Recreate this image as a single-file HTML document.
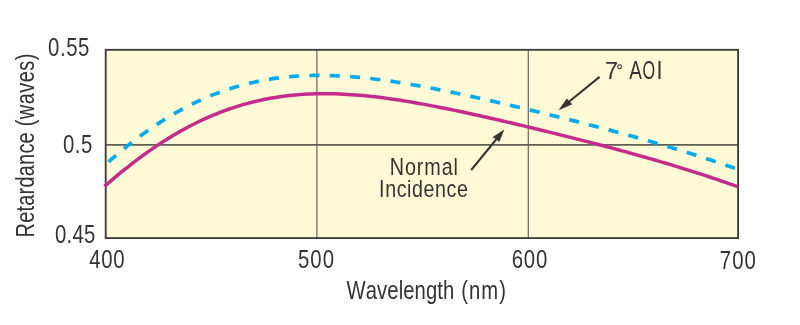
<!DOCTYPE html>
<html><head><meta charset="utf-8"><style>
html,body{margin:0;padding:0;background:#fff;width:800px;height:325px;overflow:hidden;position:relative}
text{font-family:"Liberation Sans",sans-serif}
</style></head><body>
<svg width="800" height="325" viewBox="0 0 800 325" style="position:absolute;left:0;top:0;will-change:transform">
<rect x="106" y="50" width="632" height="188" fill="#FFFAD6"/>
<line x1="316.9" y1="50" x2="316.9" y2="238" stroke="#6a6a5e" stroke-width="1.25"/>
<line x1="528.3" y1="50" x2="528.3" y2="238" stroke="#6a6a5e" stroke-width="1.25"/>
<line x1="106" y1="144.9" x2="738" y2="144.9" stroke="#5f5f52" stroke-width="1.6"/>
<path d="M108.49,161.91 L110.02,160.57 L111.54,159.23 L113.06,157.91 L114.59,156.59 L116.11,155.29 M123.97,148.73 L125.55,147.45 L127.13,146.17 L128.70,144.91 L130.28,143.67 L131.86,142.43 M140.01,136.23 L141.64,135.02 L143.28,133.83 L144.92,132.65 L146.56,131.48 L148.19,130.32 M156.64,124.55 L158.34,123.43 L160.04,122.33 L161.74,121.23 L163.44,120.16 L165.14,119.09 M173.92,113.83 L175.68,112.81 L177.44,111.81 L179.21,110.83 L180.97,109.86 L182.73,108.90 M191.83,104.21 L193.65,103.32 L195.48,102.44 L197.31,101.57 L199.13,100.73 L200.96,99.89 M210.36,95.85 L212.24,95.09 L214.13,94.35 L216.01,93.62 L217.89,92.90 L219.78,92.21 M229.45,88.87 L231.38,88.26 L233.32,87.65 L235.25,87.07 L237.18,86.50 L239.12,85.95 M249.02,83.36 L250.99,82.89 L252.96,82.44 L254.93,82.00 L256.90,81.58 L258.88,81.17 M268.94,79.33 L270.94,79.01 L272.94,78.70 L274.94,78.41 L276.94,78.13 L278.94,77.87 M289.11,76.75 L291.12,76.57 L293.14,76.41 L295.15,76.25 L297.16,76.11 L299.18,75.99 M309.40,75.53 L311.42,75.48 L313.44,75.44 L315.46,75.41 L317.48,75.40 L319.50,75.39 M329.73,75.53 L331.75,75.59 L333.77,75.66 L335.79,75.74 L337.80,75.83 L339.82,75.93 M350.03,76.58 L352.05,76.74 L354.06,76.90 L356.07,77.07 L358.09,77.25 L360.10,77.44 M370.27,78.51 L372.28,78.75 L374.28,78.99 L376.29,79.23 L378.29,79.49 L380.30,79.75 M390.43,81.16 L392.43,81.45 L394.43,81.75 L396.42,82.06 L398.42,82.37 L400.42,82.69 M410.51,84.36 L412.50,84.71 L414.49,85.05 L416.48,85.41 L418.47,85.76 L420.46,86.12 M430.52,88.00 L432.50,88.39 L434.48,88.77 L436.46,89.16 L438.45,89.55 L440.43,89.94 M450.46,91.98 L452.43,92.39 L454.41,92.80 L456.39,93.21 L458.36,93.63 L460.34,94.05 M470.35,96.21 L472.32,96.64 L474.29,97.07 L476.26,97.50 L478.24,97.94 L480.21,98.38 M490.19,100.63 L492.16,101.07 L494.13,101.52 L496.10,101.97 L498.07,102.43 L500.04,102.88 M510.00,105.20 L511.97,105.66 L513.94,106.12 L515.90,106.59 L517.87,107.05 L519.83,107.52 M529.79,109.90 L531.75,110.37 L533.71,110.85 L535.68,111.32 L537.64,111.80 L539.60,112.27 M549.54,114.71 L551.50,115.19 L553.46,115.68 L555.42,116.17 L557.38,116.65 L559.34,117.14 M569.27,119.63 L571.23,120.13 L573.18,120.63 L575.14,121.12 L577.10,121.62 L579.06,122.12 M588.97,124.68 L590.92,125.18 L592.88,125.69 L594.83,126.20 L596.78,126.72 L598.74,127.23 M608.63,129.85 L610.58,130.38 L612.53,130.90 L614.48,131.42 L616.43,131.95 L618.38,132.48 M628.25,135.18 L630.20,135.72 L632.14,136.26 L634.09,136.80 L636.04,137.35 L637.98,137.90 M647.82,140.69 L649.77,141.25 L651.71,141.81 L653.65,142.37 L655.59,142.93 L657.53,143.50 M667.34,146.40 L669.27,146.98 L671.21,147.56 L673.14,148.15 L675.07,148.73 L677.01,149.32 M686.79,152.34 L688.71,152.94 L690.64,153.55 L692.56,154.16 L694.49,154.77 L696.42,155.38 M706.15,158.53 L708.07,159.16 L709.99,159.79 L711.91,160.42 L713.82,161.06 L715.74,161.70 M725.43,164.99 L727.34,165.65 L729.25,166.31 L731.16,166.97 L733.06,167.64 L734.97,168.31" fill="none" stroke="#03ABEB" stroke-width="3.7"/>
<rect x="105.7" y="49.8" width="632.4" height="188.3" fill="none" stroke="#3c3c3a" stroke-width="1.85"/>
<path d="M104.50,186.43 L108.48,182.96 L112.46,179.56 L116.44,176.20 L120.42,172.91 L124.41,169.68 L128.39,166.51 L132.37,163.41 L136.35,160.36 L140.33,157.39 L144.31,154.48 L148.29,151.63 L152.27,148.86 L156.25,146.15 L160.24,143.51 L164.22,140.94 L168.20,138.44 L172.18,136.02 L176.16,133.66 L180.14,131.38 L184.12,129.16 L188.10,127.02 L192.08,124.95 L196.07,122.95 L200.05,121.02 L204.03,119.17 L208.01,117.38 L211.99,115.67 L215.97,114.02 L219.95,112.45 L223.93,110.94 L227.92,109.51 L231.90,108.14 L235.88,106.84 L239.86,105.61 L243.84,104.44 L247.82,103.34 L251.80,102.30 L255.78,101.33 L259.76,100.43 L263.75,99.58 L267.73,98.80 L271.71,98.07 L275.69,97.41 L279.67,96.81 L283.65,96.26 L287.63,95.77 L291.61,95.33 L295.59,94.95 L299.58,94.62 L303.56,94.35 L307.54,94.12 L311.52,93.94 L315.50,93.82 L319.48,93.74 L323.46,93.70 L327.44,93.71 L331.42,93.76 L335.41,93.86 L339.39,94.00 L343.37,94.17 L347.35,94.39 L351.33,94.64 L355.31,94.92 L359.29,95.25 L363.27,95.60 L367.25,95.99 L371.24,96.41 L375.22,96.85 L379.20,97.33 L383.18,97.84 L387.16,98.37 L391.14,98.92 L395.12,99.50 L399.10,100.10 L403.08,100.73 L407.07,101.37 L411.05,102.04 L415.03,102.72 L419.01,103.42 L422.99,104.14 L426.97,104.88 L430.95,105.63 L434.93,106.39 L438.92,107.17 L442.90,107.96 L446.88,108.76 L450.86,109.57 L454.84,110.40 L458.82,111.24 L462.80,112.08 L466.78,112.94 L470.76,113.80 L474.75,114.67 L478.73,115.55 L482.71,116.44 L486.69,117.33 L490.67,118.23 L494.65,119.14 L498.63,120.05 L502.61,120.97 L506.59,121.89 L510.58,122.82 L514.56,123.76 L518.54,124.70 L522.52,125.64 L526.50,126.59 L530.48,127.54 L534.46,128.50 L538.44,129.47 L542.42,130.43 L546.41,131.40 L550.39,132.38 L554.37,133.36 L558.35,134.35 L562.33,135.34 L566.31,136.33 L570.29,137.33 L574.27,138.33 L578.25,139.34 L582.24,140.36 L586.22,141.38 L590.20,142.40 L594.18,143.43 L598.16,144.47 L602.14,145.51 L606.12,146.56 L610.10,147.62 L614.08,148.68 L618.07,149.75 L622.05,150.83 L626.03,151.92 L630.01,153.01 L633.99,154.11 L637.97,155.22 L641.95,156.34 L645.93,157.46 L649.92,158.60 L653.90,159.75 L657.88,160.90 L661.86,162.07 L665.84,163.25 L669.82,164.44 L673.80,165.64 L677.78,166.85 L681.76,168.07 L685.75,169.31 L689.73,170.56 L693.71,171.82 L697.69,173.09 L701.67,174.38 L705.65,175.68 L709.63,177.00 L713.61,178.33 L717.59,179.68 L721.58,181.04 L725.56,182.41 L729.54,183.81 L733.52,185.21 L737.50,186.64" fill="none" stroke="#C52B8A" stroke-width="3.5"/>
<line x1="471.2" y1="170" x2="497" y2="138.5" stroke="#333333" stroke-width="2"/>
<path d="M504.3,129.6 L492.4,137.3 L496.6,139.2 L499.2,142.3 Z" fill="#333333"/>
<line x1="599.6" y1="76.9" x2="568" y2="102.5" stroke="#333333" stroke-width="2"/>
<path d="M558.5,110.2 L566.8,98.4 L569.5,101.5 L572.3,104.3 Z" fill="#333333"/>
<circle cx="619.6" cy="66.7" r="1.95" fill="none" stroke="#333333" stroke-width="1.05"/>
<g font-family="Liberation Sans, sans-serif" style="font-kerning:none">
<text transform="translate(48.01,55.80) scale(0.8000,1)" font-size="25.44" letter-spacing="0.727" fill="#333333" >0.55</text>
<text transform="translate(63.01,152.70) scale(0.8000,1)" font-size="25.44" letter-spacing="0.663" fill="#333333" >0.5</text>
<text transform="translate(54.91,242.80) scale(0.8000,1)" font-size="25.44" letter-spacing="0.352" fill="#333333" >0.45</text>
<text transform="translate(89.23,267.60) scale(0.8000,1)" font-size="25.44" letter-spacing="0.944" fill="#333333" >400</text>
<text transform="translate(297.99,267.70) scale(0.8000,1)" font-size="25.44" letter-spacing="1.286" fill="#333333" >500</text>
<text transform="translate(511.67,267.70) scale(0.8000,1)" font-size="25.44" letter-spacing="1.110" fill="#333333" >600</text>
<text transform="translate(719.86,268.60) scale(0.8000,1)" font-size="25.44" letter-spacing="1.242" fill="#333333" >700</text>
<text transform="translate(346.61,298.70) scale(0.8000,1)" font-size="25.29" letter-spacing="0.105" fill="#333333" >Wavelength</text>
<text transform="translate(461.35,298.70) scale(0.8000,1)" font-size="25.29" letter-spacing="1.261" fill="#333333" >(nm)</text>
<text transform="translate(389.78,174.60) scale(0.8000,1)" font-size="24.71" letter-spacing="1.135" fill="#333333" >Normal</text>
<text transform="translate(379.09,196.60) scale(0.8000,1)" font-size="24.56" letter-spacing="0.729" fill="#333333" >Incidence</text>
<text transform="translate(605.09,78.70) scale(0.9526,1)" font-size="24.71" letter-spacing="0.000" fill="#333333" >7</text>
<text transform="translate(629.26,78.70) scale(0.7513,1)" font-size="25.29" letter-spacing="0.000" fill="#333333" >A</text>
<text transform="translate(642.53,78.90) scale(0.6356,1)" font-size="25.58" letter-spacing="0.000" fill="#333333" >O</text>
<text transform="translate(656.52,78.70) scale(0.8479,1)" font-size="25.29" letter-spacing="0.000" fill="#333333" >I</text>
<g transform="translate(34,235.8) rotate(-90)"><text transform="translate(-1.64,0.00) scale(0.8000,1)" font-size="25.00" letter-spacing="0.254" fill="#333333" >Retardance</text><text transform="translate(109.46,0.00) scale(0.8000,1)" font-size="25.00" letter-spacing="0.556" fill="#333333" >(waves)</text></g>
</g>
</svg>
</body></html>
